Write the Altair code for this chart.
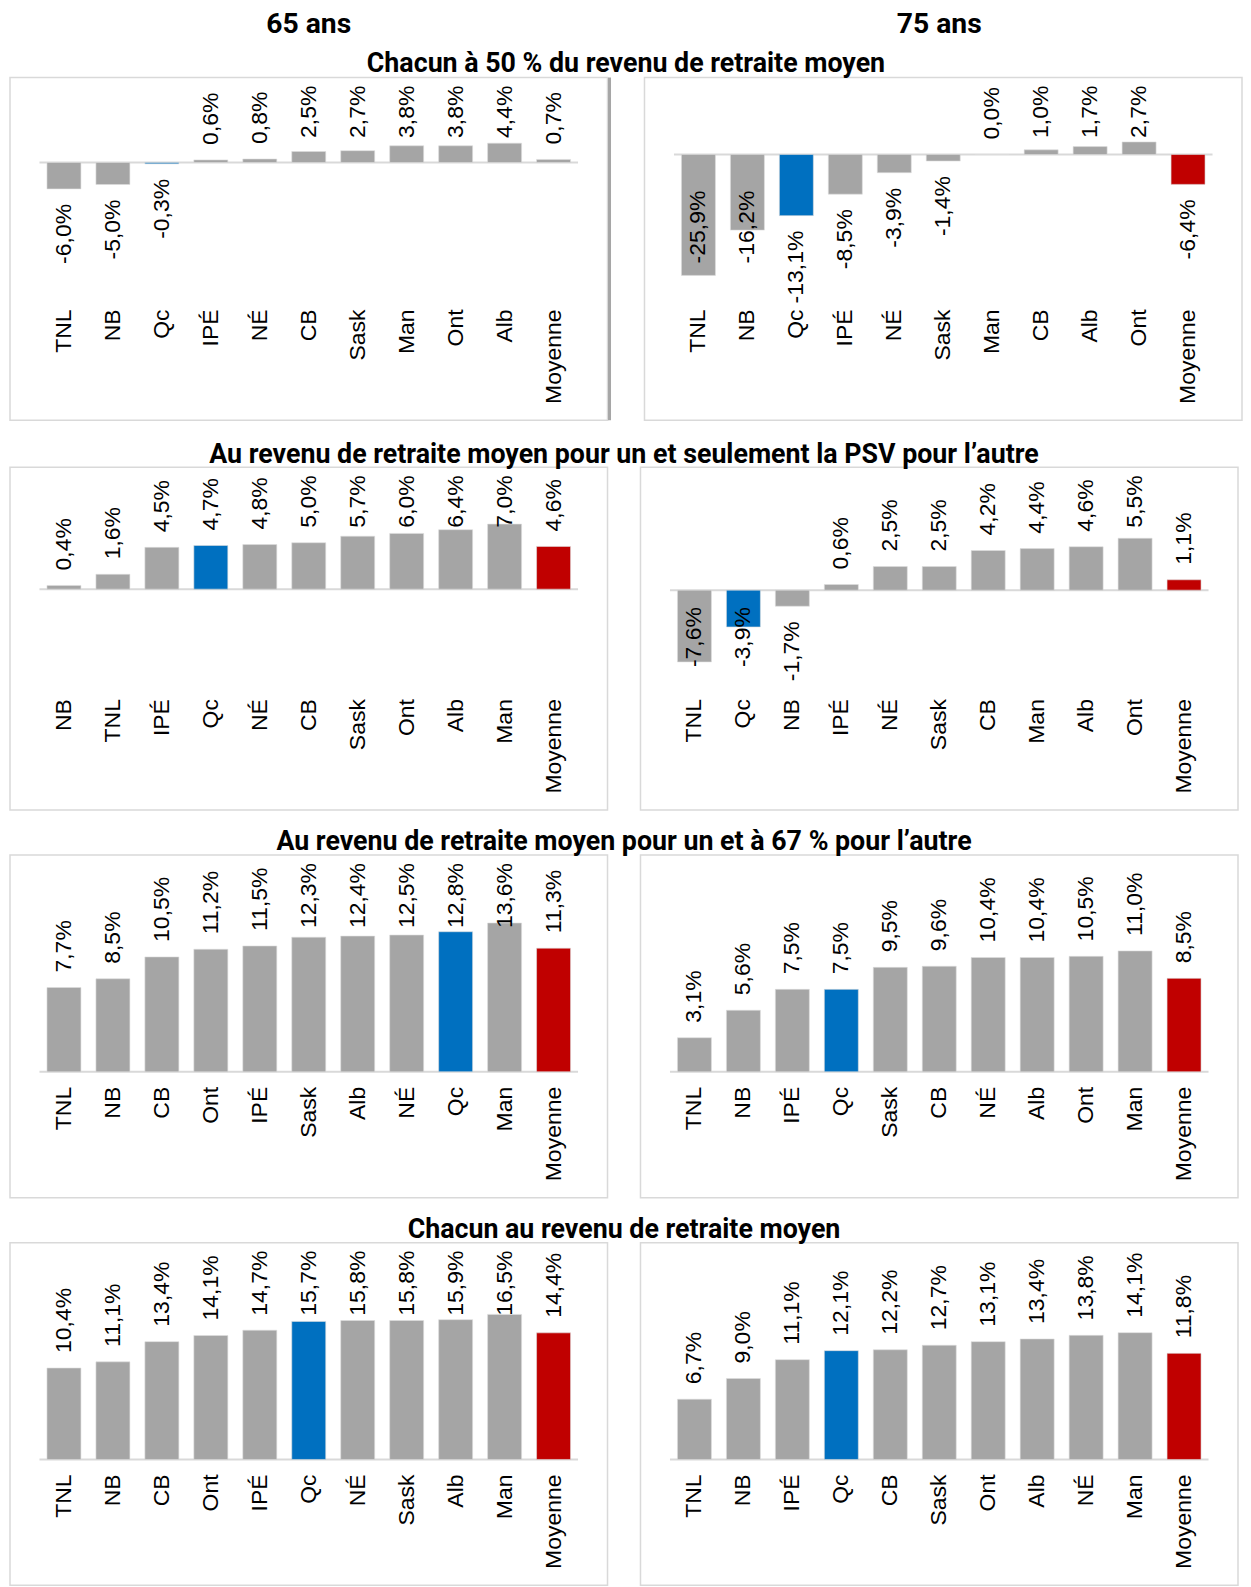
import altair as alt
import pandas as pd

# ---------------- data ----------------
age_headers = ["65 ans", "75 ans"]
row_titles = [
    "Chacun à 50 % du revenu de retraite moyen",
    "Au revenu de retraite moyen pour un et seulement la PSV pour l’autre",
    "Au revenu de retraite moyen pour un et à 67 % pour l’autre",
    "Chacun au revenu de retraite moyen",
]

r1_65_cats = ["TNL", "NB", "Qc", "IPÉ", "NÉ", "CB", "Sask", "Man", "Ont", "Alb", "Moyenne"]
r1_65_vals = [-6.0, -5.0, -0.3, 0.6, 0.8, 2.5, 2.7, 3.8, 3.8, 4.4, 0.7]
r1_75_cats = ["TNL", "NB", "Qc", "IPÉ", "NÉ", "Sask", "Man", "CB", "Alb", "Ont", "Moyenne"]
r1_75_vals = [-25.9, -16.2, -13.1, -8.5, -3.9, -1.4, 0.0, 1.0, 1.7, 2.7, -6.4]

r2_65_cats = ["NB", "TNL", "IPÉ", "Qc", "NÉ", "CB", "Sask", "Ont", "Alb", "Man", "Moyenne"]
r2_65_vals = [0.4, 1.6, 4.5, 4.7, 4.8, 5.0, 5.7, 6.0, 6.4, 7.0, 4.6]
r2_75_cats = ["TNL", "Qc", "NB", "IPÉ", "NÉ", "Sask", "CB", "Man", "Alb", "Ont", "Moyenne"]
r2_75_vals = [-7.6, -3.9, -1.7, 0.6, 2.5, 2.5, 4.2, 4.4, 4.6, 5.5, 1.1]

r3_65_cats = ["TNL", "NB", "CB", "Ont", "IPÉ", "Sask", "Alb", "NÉ", "Qc", "Man", "Moyenne"]
r3_65_vals = [7.7, 8.5, 10.5, 11.2, 11.5, 12.3, 12.4, 12.5, 12.8, 13.6, 11.3]
r3_75_cats = ["TNL", "NB", "IPÉ", "Qc", "Sask", "CB", "NÉ", "Alb", "Ont", "Man", "Moyenne"]
r3_75_vals = [3.1, 5.6, 7.5, 7.5, 9.5, 9.6, 10.4, 10.4, 10.5, 11.0, 8.5]

r4_65_cats = ["TNL", "NB", "CB", "Ont", "IPÉ", "Qc", "NÉ", "Sask", "Alb", "Man", "Moyenne"]
r4_65_vals = [10.4, 11.1, 13.4, 14.1, 14.7, 15.7, 15.8, 15.8, 15.9, 16.5, 14.4]
r4_75_cats = ["TNL", "NB", "IPÉ", "Qc", "CB", "Sask", "Ont", "Alb", "NÉ", "Man", "Moyenne"]
r4_75_vals = [6.7, 9.0, 11.1, 12.1, 12.2, 12.7, 13.1, 13.4, 13.8, 14.1, 11.8]

# ---------------- styling / layout ----------------
GRAY, BLUE, RED = "#A5A5A5", "#0070C0", "#C00000"
TITLE_FONT = "Roboto"
LABEL_FONT = "Liberation Sans"
LABEL_SIZE = 23
GAP = 15
TOP_LIM = 8          # data labels never start above this (px from panel top)
W, H = 598, 343
LABEL_TOP = 232      # distance from panel top to the category labels
EDGE = 29.5          # inset of the zero line
# Arial / Liberation Sans advance widths (em) for the label characters
CHAR_W = {**{d: 0.556 for d in "0123456789"}, ",": 0.278, "%": 0.889, "-": 0.333}


def fmt(v):
    s = f"{abs(v):.1f}".replace(".", ",") + "%"
    return "-" + s if v < 0 else s


def text_len(s):
    return sum(CHAR_W[c] for c in s) * LABEL_SIZE


def label_anchor(v, s, k, z, clamp_px):
    """Excel-like placement: outside end, kept inside the plot area.
    Returns the data value where the (upward reading) label starts."""
    n = text_len(s)
    end = z - v * k
    if v >= 0:
        start = end - GAP
        if start - n < TOP_LIM:
            start = TOP_LIM + n
    else:
        start = end + GAP + n
        if start > LABEL_TOP - 2 and clamp_px is not None:
            start = clamp_px
    return (z - start) / k


def panel(cats, vals, k, z, red_avg=True, clamp_px=None, side_border=False):
    """k: pixels per percentage point, z: pixel offset of zero from the panel top."""
    h = H
    df = pd.DataFrame({"cat": cats, "val": vals})
    df["lab"] = [fmt(v) for v in vals]
    df["zero"] = 0.0
    df["col"] = [
        BLUE if c == "Qc" else (RED if (c == "Moyenne" and red_avg) else GRAY)
        for c in cats
    ]
    df["ly"] = [label_anchor(v, s, k, z, clamp_px) for v, s in zip(df["val"], df["lab"])]
    df["cy"] = (z - LABEL_TOP) / k   # level of the category labels

    yscale = alt.Scale(domain=[-(h - z) / k, z / k], nice=False, zero=False)
    xenc = alt.X(
        "cat:N",
        sort=cats,
        scale=alt.Scale(paddingInner=0.306, paddingOuter=0.755),
        axis=None,
    )
    base = alt.Chart(df)
    zero_df = pd.DataFrame({"zero": [0.0]})
    rule = alt.Chart(zero_df).mark_rule(color="#D9D9D9", strokeWidth=2).encode(
        y=alt.Y("zero:Q", scale=yscale, axis=None),
        x=alt.value(EDGE),
        x2=alt.value(W - EDGE),
    )
    bars = base.mark_bar(stroke="#DDDDDD", strokeWidth=0.6).encode(
        x=xenc,
        y=alt.Y("val:Q", scale=yscale, axis=None),
        y2="zero:Q",
        color=alt.Color("col:N", scale=None),
    )
    txt = dict(angle=270, baseline="middle", font=LABEL_FONT, fontSize=LABEL_SIZE, color="black")
    labels = base.mark_text(align="left", **txt).encode(
        x=xenc, y=alt.Y("ly:Q", scale=yscale, axis=None), text="lab:N"
    )
    cat_labels = base.mark_text(align="right", **txt).encode(
        x=xenc, y=alt.Y("cy:Q", scale=yscale, axis=None), text="cat:N"
    )
    layers = [rule, bars, labels, cat_labels]
    if side_border:
        edge = alt.Chart(zero_df).mark_rule(color="#A6A6A6", strokeWidth=3).encode(
            x=alt.value(W + 2), y=alt.value(0), y2=alt.value(h)
        )
        layers.append(edge)
    return alt.layer(*layers).properties(width=W, height=h)


def header(text):
    return (
        alt.Chart(pd.DataFrame({"a": [0]}))
        .mark_text()
        .encode(text=alt.value(""))
        .properties(
            width=W,
            height=1,
            title=alt.Title(text, font=TITLE_FONT, fontSize=28.3, fontWeight="bold",
                            anchor="middle", offset=-2, color="black"),
            view=alt.ViewBackground(stroke="transparent"),
        )
    )


def row(title, left, right):
    return alt.hconcat(left, right, spacing=31).properties(
        title=alt.Title(title, font=TITLE_FONT, fontSize=26.8, fontWeight="bold",
                        anchor="middle", offset=-2, color="black")
    )


p1l = panel(r1_65_cats, r1_65_vals, k=4.4, z=85, red_avg=False, side_border=True)
p1r = panel(r1_75_cats, r1_75_vals, k=4.67, z=77, clamp_px=186)
p2l = panel(r2_65_cats, r2_65_vals, k=9.3, z=122)
p2r = panel(r2_75_cats, r2_75_vals, k=9.45, z=123, clamp_px=200)
p3l = panel(r3_65_cats, r3_65_vals, k=10.95, z=217)
p3r = panel(r3_75_cats, r3_75_vals, k=11.0, z=217)
p4l = panel(r4_65_cats, r4_65_vals, k=8.8, z=217)
p4r = panel(r4_75_cats, r4_75_vals, k=9.0, z=217)

rows = alt.vconcat(
    row(row_titles[0], p1l, p1r),
    row(row_titles[1], p2l, p2r),
    row(row_titles[2], p3l, p3r),
    row(row_titles[3], p4l, p4r),
    spacing=18,
)

chart = alt.vconcat(
    alt.hconcat(header(age_headers[0]), header(age_headers[1]), spacing=31),
    rows,
    spacing=1,
).properties(
    padding={"left": 1, "top": 0, "right": 0, "bottom": 0}
).configure_view(stroke="#D9D9D9", strokeWidth=1.5)

chart.save("out.html", embed_options={"renderer": "svg", "actions": False})
